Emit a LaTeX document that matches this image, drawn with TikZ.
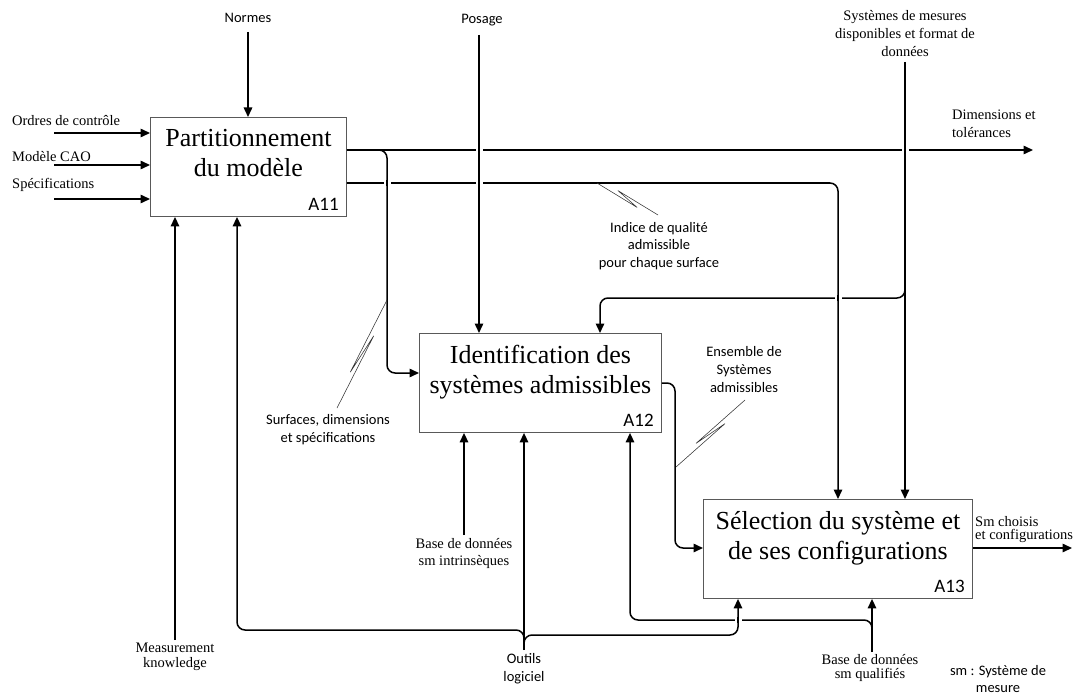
\documentclass[tikz,border=0pt]{standalone}
\usepackage{fontspec}
\setmainfont{Liberation Serif}
\newfontfamily\calfont{Carlito}
\usetikzlibrary{arrows.meta,calc}
\newcommand\squiggle[2]{\draw[squig] (#1) -- ($(#1)!0.68!(#2)!3pt!-90:(#2)$) -- ($(#1)!0.32!(#2)!3pt!90:(#2)$) -- (#2);}
\begin{document}
\begin{tikzpicture}[x=1pt,y=-1pt,
 box/.style={draw=black!65,line width=0.9pt,fill=white,inner sep=0,anchor=north west},
 title/.style={font=\fontsize{26}{30}\selectfont,align=center,inner sep=0,anchor=north},
 aid/.style={font=\calfont\fontsize{19}{20}\selectfont,inner sep=0,anchor=base east},
 tlab/.style={font=\fontsize{14.5}{#1}\selectfont,inner sep=0},
 tlab/.default=16,
 slab/.style={font=\calfont\fontsize{14.5}{#1}\selectfont,inner sep=0},
 slab/.default=18,
 conn/.style={line width=1.5pt,rounded corners=8pt},
 arr/.style={conn,-{Triangle[length=9.5pt,width=8.5pt]}},
 squig/.style={line width=0.55pt,black!80,line join=miter}
]
\useasboundingbox (0,0) rectangle (1075,695);

% boxes
\node[box,minimum width=196pt,minimum height=99pt] (a11) at (150,117) {};
\node[box,minimum width=242pt,minimum height=99pt] (a12) at (419,333) {};
\node[box,minimum width=269pt,minimum height=99pt] (a13) at (703,499) {};
\node[title] (t11) at ([yshift=-12pt]a11.north) {Partitionnement\\du modèle};
\node[title] (t12) at ([yshift=-12pt]a12.north) {Identification des\\systèmes admissibles};
\node[title] (t13) at ([yshift=-12pt]a13.north) {Sélection du système et\\de ses configurations};
\node[aid] (id11) at ([xshift=-8pt,yshift=6pt]a11.south east) {A11};
\node[aid] (id12) at ([xshift=-8pt,yshift=6pt]a12.south east) {A12};
\node[aid] (id13) at ([xshift=-8pt,yshift=6pt]a13.south east) {A13};

% labels
\node[tlab,anchor=base west] (ordres) at (12,126) {Ordres de contrôle};
\node[tlab,anchor=base west] (cao) at (12,162) {Modèle CAO};
\node[tlab,anchor=base west] (specs) at (12,189) {Spécifications};
\node[slab,anchor=base] (normes) at (248,23) {Normes};
\node[slab,anchor=base] (posage) at (482,24) {Posage};
\node[tlab=18,align=center,anchor=north] (sysmes) at (905,10) {Systèmes de mesures\\disponibles et format de\\données};
\node[tlab=18,align=left,anchor=north west] (dimtol) at (952,110) {Dimensions et\\tolérances};
\node[tlab=13,align=left,anchor=north west] (smch) at (975,516) {Sm choisis\\et configurations};
\node[tlab=17,align=center,anchor=north] (bddint) at (464,538) {Base de données\\sm intrinsèques};
\node[tlab=15,align=center,anchor=north] (meas) at (175,643) {Measurement\\knowledge};
\node[tlab=14,align=center,anchor=north] (bddq) at (870,654) {Base de données\\sm qualifiés};
\node[slab=17.5,align=center,anchor=north] (indice) at (659,222) {Indice de qualité\\admissible\\pour chaque surface};
\node[slab,align=center,anchor=north] (surf) at (328,414) {Surfaces, dimensions\\et spécifications};
\node[slab,align=center,anchor=north] (ens) at (744,346) {Ensemble de\\Systèmes\\admissibles};
\node[slab,align=center,anchor=north] (outils) at (524,653) {Outils\\logiciel};
\node[slab=17,align=center,anchor=north] (smdef) at (998,665) {sm : Système de\\mesure};

% free ends
\coordinate (in1) at (54,133);
\coordinate (in2) at (54,165);
\coordinate (in3) at (54,199);
\coordinate (normesS) at (248,32);
\coordinate (posS) at (479,35);
\coordinate (sysS) at (905,62);
\coordinate (sysB) at (905,298);
\coordinate (dimE) at (1033,150);
\coordinate (smE) at (1072,548);
\coordinate (measS) at (175,640);
\coordinate (bddintS) at (464,535);
\coordinate (outS) at (524,650);
\coordinate (outL) at (524,630);
\coordinate (outR) at (524,635);
\coordinate (bddqS) at (872,652);
\coordinate (bddqB) at (872,620);
\coordinate (a12in1) at ([yshift=-40pt]a12.north west);
\coordinate (a13in1) at ([xshift=135pt]a13.north west);
\coordinate (a12out) at ([yshift=-50pt]a12.north east);
\coordinate (a13in) at ([yshift=-49pt]a13.north west);

% inputs A11
\draw[arr] (in1) -- (in1 -| a11.west);
\draw[arr] (in2) -- (in2 -| a11.west);
\draw[arr] (in3) -- (in3 -| a11.west);
\draw[arr] (normesS) -- (normesS |- a11.north);

% outputs A11
\draw[arr] (dimE -| a11.east) -- (dimE);
\draw[arr] (dimE -| a11.east) -| ($(a12in1)+(-32,0)$) -- (a12in1);
\draw[arr] ([yshift=-66pt]a11.north east) -| (a13in1);

% controls
\draw[arr] (posS) -- (posS |- a12.north);
\draw[arr] (sysS) -- (sysS |- a13.north);
\draw[arr] ($(sysB)+(0,-14)$) -- (sysB) -| ([xshift=181pt]a12.north west);

% A12 -> A13
\draw[arr] (a12out) -| ($(a13in)+(-28,0)$) -- (a13in);
\draw[arr] (smE -| a13.east) -- (smE);

% mechanisms
\draw[arr] (measS) -- (measS |- a11.south);
\draw[arr] (bddintS) -- (bddintS |- a12.south);
\draw[arr] (outS) -- (outS |- a12.south);
\draw[arr] ($(outS)+(0,-6)$) -- (outL) -| ([xshift=87pt]a11.south west);
\draw[arr] ($(outS)+(0,-4)$) -- (outR) -| ([xshift=35pt]a13.south west);
\draw[arr] (bddqS) -- (bddqS |- a13.south);
\draw[arr] ($(bddqB)+(0,12)$) -- (bddqB) -| ([xshift=211pt]a12.south west);

% squiggles
\coordinate (sq1a) at (597,183); \coordinate (sq1b) at (658,215);
\coordinate (sq2a) at (387,300); \coordinate (sq2b) at (337,408);
\coordinate (sq3a) at (745,400); \coordinate (sq3b) at (676,467);
\squiggle{sq1a}{sq1b}
\squiggle{sq2a}{sq2b}
\squiggle{sq3a}{sq3b}

% crossing gaps
\foreach \x/\y in {479/150,905/150,387/183,479/183,838/298,738/620}{
  \fill[white] (\x-3.5,\y-2.5) rectangle (\x+3.5,\y+2.5);
  \draw[line width=1.5pt] (\x,\y-3.2) -- (\x,\y+3.2);
}
\end{tikzpicture}
\end{document}
